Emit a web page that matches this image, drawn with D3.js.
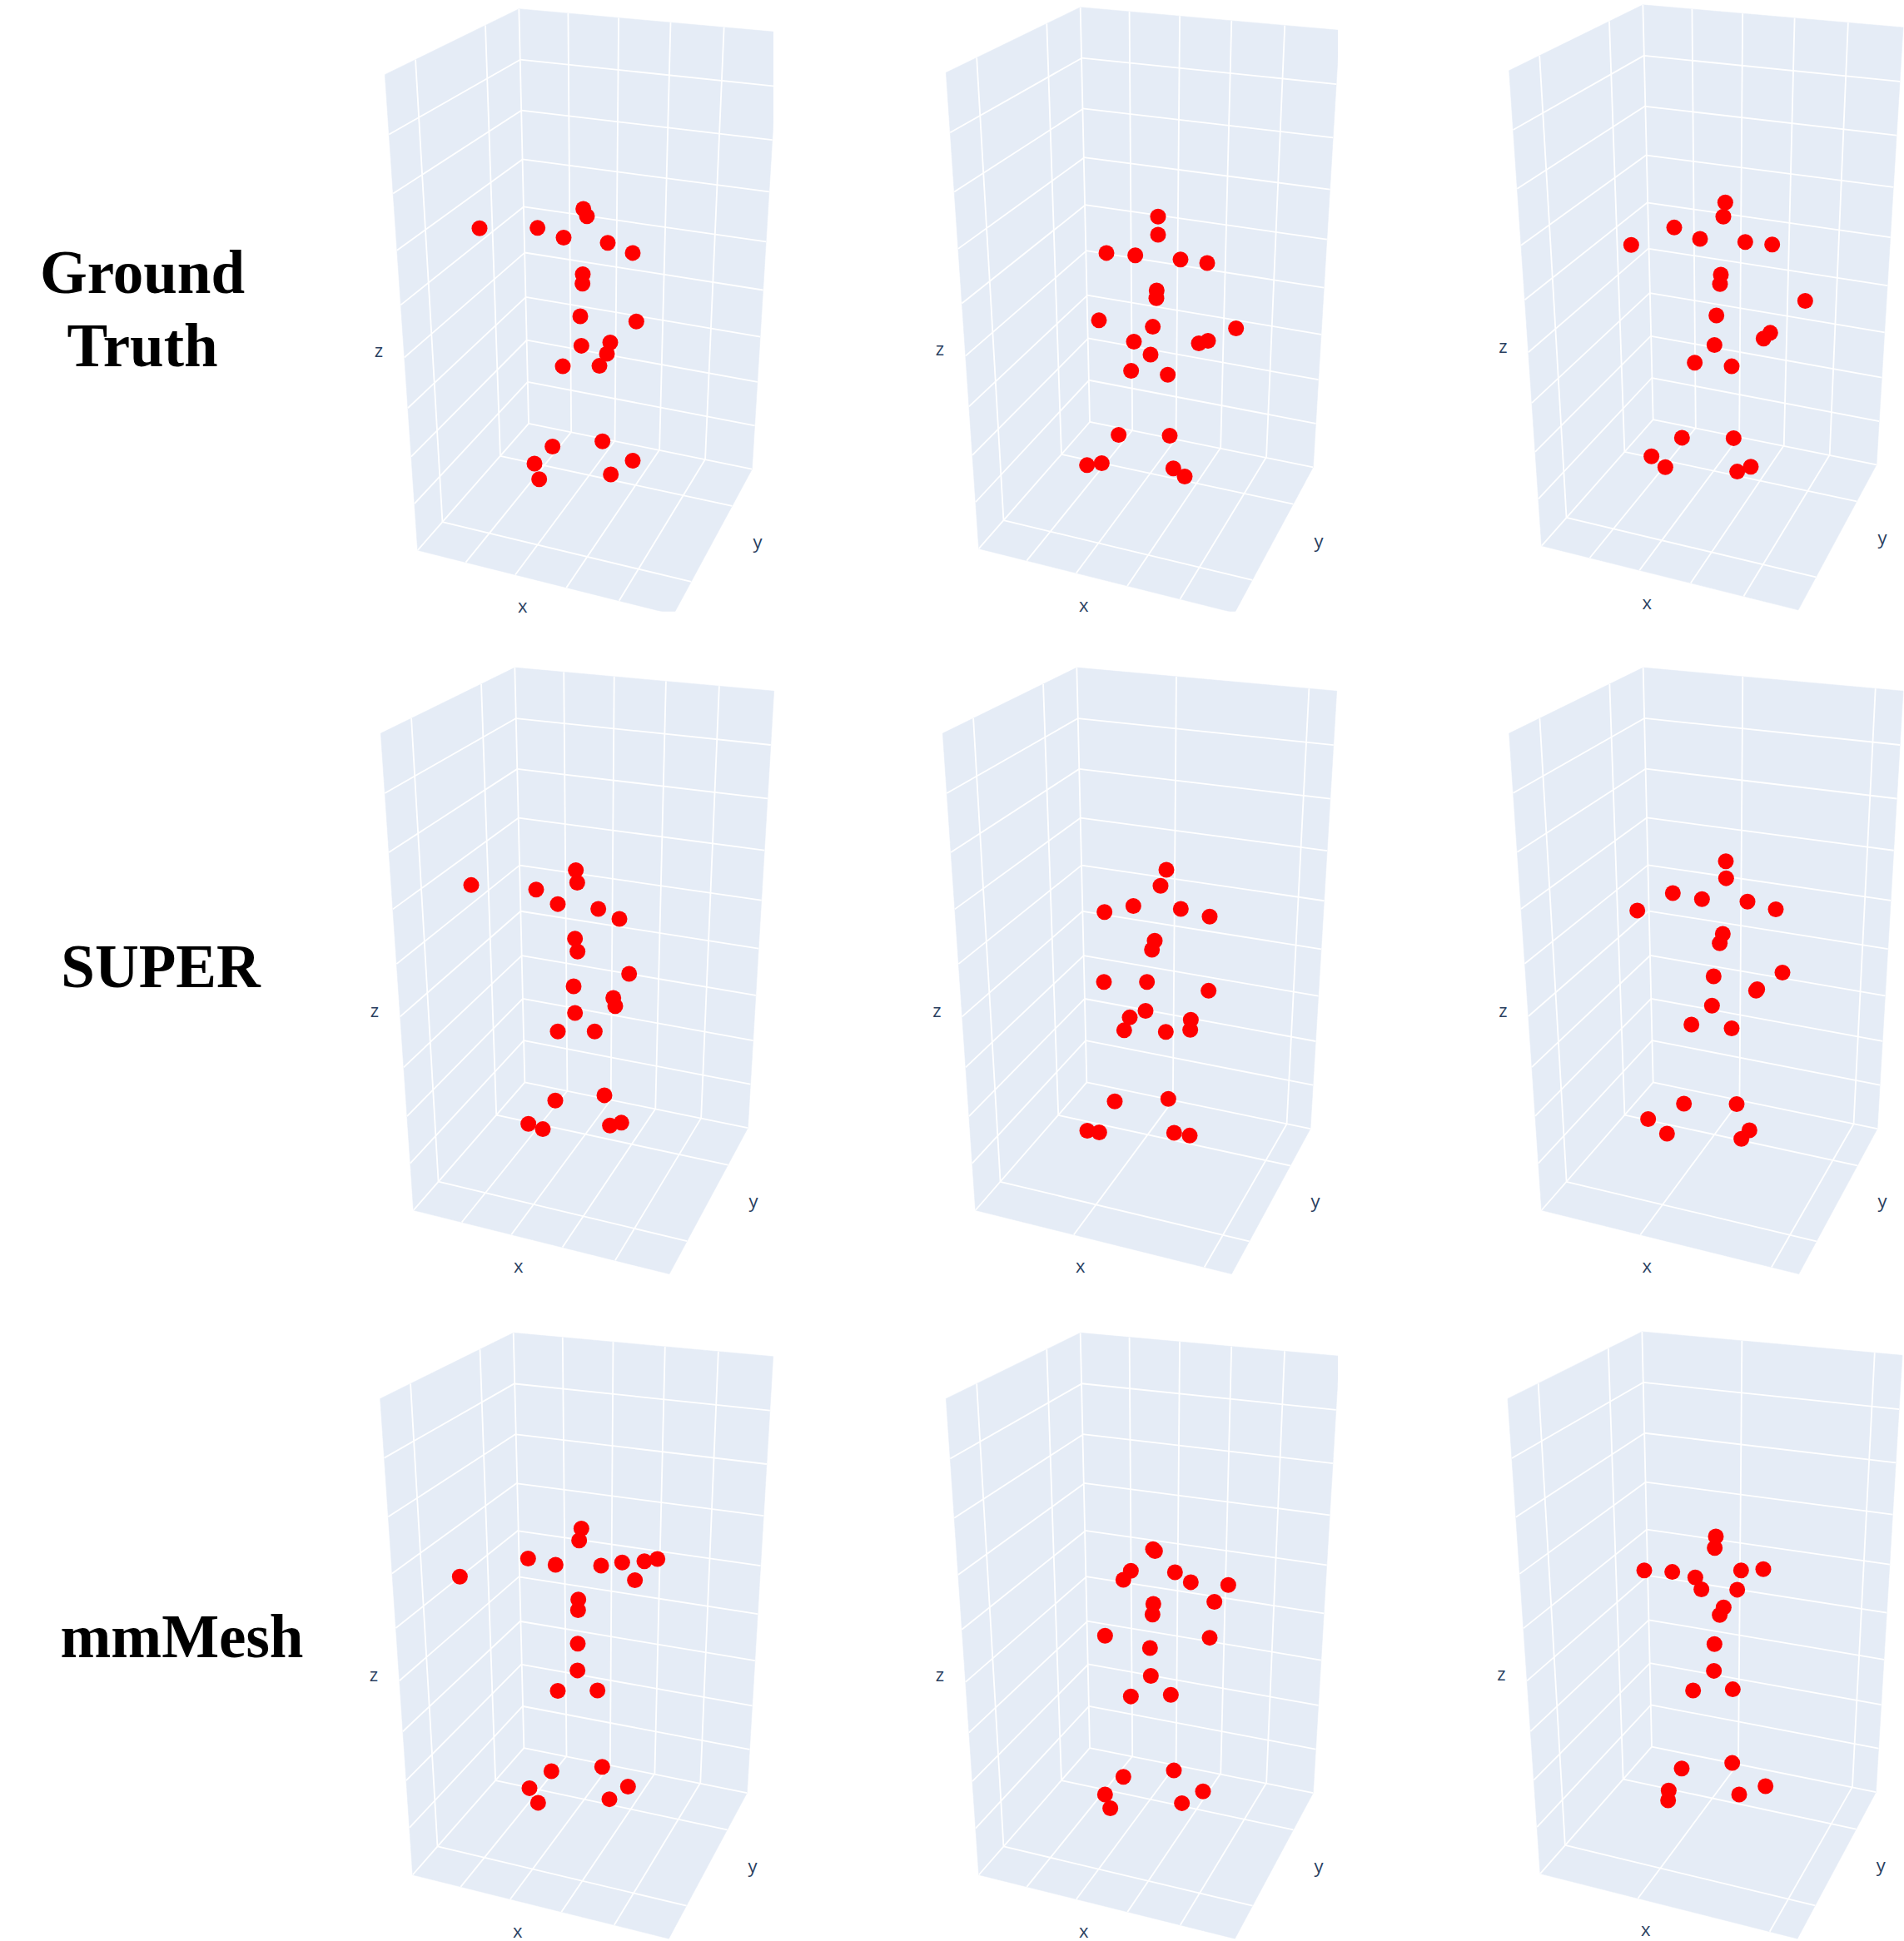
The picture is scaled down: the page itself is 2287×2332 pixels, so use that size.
<!DOCTYPE html>
<html>
<head>
<meta charset="utf-8">
<script src="https://cdn.jsdelivr.net/npm/d3@7"></script>
<style>
  html, body { margin: 0; background: #fff; }
  svg { display: block; }
</style>
</head>
<body>
<script>
const pageWidth = 2287;
const pageHeight = 2332;

const rowLabels = [
  { lines: ["Ground", "Truth"], baselines: [352, 440], cx: 171 },
  { lines: ["SUPER"], baselines: [1186], cx: 193 },
  { lines: ["mmMesh"], baselines: [1991], cx: 218.5 }
];

// joint positions, as [across, down] in the panel's own reading grid (0-1560, 0-1568)
const truthFrameA = [[408,566],[617,565],[711,589],[782,518],[795,536],[870,602],[960,627],[780,680],[779,703],[771,784],[973,797],[775,857],[879,849],[867,877],[840,907],[708,908],[671,1107],[851,1094],[606,1149],[623,1188],[881,1176],[960,1142]];
const truthFrameB = [[657,627],[761,633],[843,537],[843,582],[924,643],[1020,652],[838,720],[837,739],[630,794],[824,810],[1124,814],[756,847],[990,851],[1023,845],[816,879],[746,919],[878,929],[701,1078],[885,1080],[587,1153],[640,1148],[898,1161],[939,1181]];
const truthFrameC = [[538,607],[693,564],[786,592],[877,502],[870,537],[949,600],[1046,606],[861,681],[858,704],[1165,746],[845,782],[838,855],[1039,825],[1015,839],[767,899],[900,908],[721,1085],[907,1086],[611,1131],[661,1158],[920,1169],[969,1157]];
const superFrameA = [[378,564],[612,575],[690,611],[755,527],[760,558],[836,623],[912,648],[752,697],[761,729],[947,784],[747,815],[890,844],[897,864],[752,881],[690,927],[823,927],[858,1085],[681,1098],[584,1156],[636,1169],[878,1160],[919,1153]];
const superFrameB = [[873,526],[852,566],[754,616],[925,623],[650,631],[1029,642],[831,702],[821,724],[648,804],[803,804],[1025,826],[798,876],[741,892],[721,924],[961,898],[959,923],[871,928],[687,1100],[880,1094],[588,1173],[631,1177],[901,1178],[957,1185]];
const superFrameC = [[879,505],[880,547],[688,584],[793,599],[957,605],[1059,624],[560,627],[868,685],[857,708],[835,790],[1083,781],[992,822],[988,826],[829,863],[755,910],[900,919],[728,1106],[918,1107],[599,1144],[667,1180],[964,1172],[935,1193]];
const meshFrameA = [[775,521],[767,551],[583,597],[682,613],[846,615],[922,607],[1002,604],[1049,598],[968,652],[337,643],[764,701],[763,728],[762,813],[761,881],[690,933],[833,932],[667,1137],[850,1126],[588,1180],[619,1217],[876,1208],[943,1176]];
const meshFrameB = [[825,573],[832,578],[745,628],[718,651],[904,632],[961,657],[1096,664],[1046,707],[826,712],[823,739],[652,793],[1029,798],[814,824],[817,895],[745,947],[889,943],[718,1151],[900,1135],[652,1196],[671,1231],[929,1218],[1005,1188]];
const meshFrameC = [[843,541],[839,570],[585,627],[686,631],[769,645],[791,675],[934,627],[1014,624],[920,676],[871,721],[857,740],[838,814],[836,882],[761,932],[904,929],[720,1130],[902,1116],[673,1186],[671,1211],[927,1196],[1022,1175]];

const framePoints = [
  truthFrameA, truthFrameB, truthFrameC,
  superFrameA, superFrameB, superFrameC,
  meshFrameA, meshFrameB, meshFrameC
];

// gridline values on each axis of the 3D box
const xTicksFine = [1, 2, 3, 4];
const xTicksCoarse = [2, 4.5];
const yTicks = [0.287, 0.803];
const zTicks = [1, 2, 3, 4, 5, 6, 7, 8];
const panelXTicks = [
  xTicksFine, xTicksFine, xTicksFine,
  xTicksFine, xTicksCoarse, xTicksCoarse,
  xTicksFine, xTicksFine, xTicksCoarse
];

// where each scene sits on the page
const cropLeft = [440, 1110, 1780];
const cropTop = [0, 790, 1590];
const cropHeight = [760, 760, 742];

// box corners: a front-top, b back-top, c right-top, d right-floor, e front-right, f front-floor, g back-floor
const boxCorners = [
  { a: [67,185], b: [550,22], c: [1487,80], d: [1390,1163], e: [1107,1523], f: [185,1364], g: [585,1050] },
  { a: [79,180], b: [563,18], c: [1497,75], d: [1402,1158], e: [1119,1519], f: [197,1360], g: [597,1046] },
  { a: [98,175], b: [580,12], c: [1518,68], d: [1422,1152], e: [1140,1512], f: [215,1353], g: [617,1040] },
  { a: [52,188], b: [535,25], c: [1469,83], d: [1375,1166], e: [1092,1528], f: [170,1370], g: [571,1053] },
  { a: [67,188], b: [550,25], c: [1487,83], d: [1392,1168], e: [1108,1528], f: [185,1370], g: [586,1053] },
  { a: [98,188], b: [581,25], c: [1518,83], d: [1425,1168], e: [1142,1528], f: [215,1370], g: [617,1053] },
  { a: [50,191], b: [530,24], c: [1466,84], d: [1372,1192], e: [1090,1562], f: [167,1400], g: [568,1078] },
  { a: [79,191], b: [563,24], c: [1496,83], d: [1402,1192], e: [1120,1562], f: [197,1400], g: [597,1078] },
  { a: [93,191], b: [577,21], c: [1515,81], d: [1420,1190], e: [1137,1562], f: [210,1397], g: [612,1075] }
];
const clipRight = [1467, 1491, 1560, 1560, 1560, 1560, 1560, 1491, 1560];
const clipBottom = [1516, 1516, 1568, 1568, 1568, 1568, 1568, 1568, 1568];

const axisLabelSpots = [
  { z: [45,872], x: [563,1505], y: [1410,1346] },
  { z: [57,868], x: [575,1502], y: [1422,1343] },
  { z: [76,862], x: [595,1496], y: [1443,1336] },
  { z: [30,877], x: [548,1512], y: [1395,1351] },
  { z: [46,877], x: [563,1512], y: [1410,1351] },
  { z: [76,877], x: [595,1512], y: [1443,1351] },
  { z: [27,895], x: [545,1545], y: [1392,1381] },
  { z: [57,895], x: [575,1545], y: [1422,1381] },
  { z: [70,893], x: [590,1542], y: [1438,1379] }
];

const wallColor = "#E5ECF6";
const gridColor = "#FFFFFF";
const axisTextColor = "#2A3F5F";
const markerColor = "#FF0000";
const markerRadius = 9.5;

const xFraction = d3.scaleLinear().domain([0, 5]).range([0, 1]);
const zFraction = d3.scaleLinear().domain([-0.03, 8.97]).range([0, 1]);

// maps the unit square onto a quad given as corners at (0,0), (1,0), (1,1), (0,1)
function squareToQuad([x0, y0], [x1, y1], [x2, y2], [x3, y3]) {
  const dx1 = x1 - x2;
  const dx2 = x3 - x2;
  const sx = x0 - x1 + x2 - x3;
  const dy1 = y1 - y2;
  const dy2 = y3 - y2;
  const sy = y0 - y1 + y2 - y3;
  const det = dx1 * dy2 - dx2 * dy1;
  const g = (sx * dy2 - dx2 * sy) / det;
  const h = (dx1 * sy - sx * dy1) / det;
  const a = x1 - x0 + g * x1;
  const b = x3 - x0 + h * x3;
  const d = y1 - y0 + g * y1;
  const e = y3 - y0 + h * y3;

  return (u, v) => {
    const w = g * u + h * v + 1;
    return [(a * u + b * v + x0) / w, (d * u + e * v + y0) / w];
  };
}

const svg = d3.select("body").append("svg")
  .attr("width", pageWidth)
  .attr("height", pageHeight)
  .style("background", "#fff");

const defs = svg.append("defs");
defs.append("filter").attr("id", "soften")
  .append("feGaussianBlur").attr("stdDeviation", 0.45);

function drawPanel(points, idx) {
  const col = idx % 3;
  const row = Math.floor(idx / 3);
  const corners = boxCorners[idx];
  const left = cropLeft[col];
  const top = cropTop[row];

  const px = d3.scaleLinear().domain([0, 1560]).range([left, left + 520]);
  const py = d3.scaleLinear().domain([0, 1568]).range([top, top + cropHeight[row]]);
  const line = d3.line().x((d) => px(d[0])).y((d) => py(d[1]));

  defs.append("clipPath").attr("id", `scene-${idx}`)
    .append("rect")
    .attr("x", px(0) - 20)
    .attr("y", py(0))
    .attr("width", px(clipRight[idx]) - px(0) + 20)
    .attr("height", py(clipBottom[idx]) - py(0));

  const scene = svg.append("g")
    .attr("class", "scene")
    .attr("clip-path", `url(#scene-${idx})`)
    .attr("filter", "url(#soften)");

  const { a, b, c, d, e, f, g } = corners;
  const backWall = squareToQuad(g, d, c, b); // u = x, v = z
  const sideWall = squareToQuad(g, f, a, b); // u = y, v = z
  const floor = squareToQuad(g, d, e, f); // u = x, v = y

  scene.selectAll("path.wall")
    .data([[g, d, c, b], [g, f, a, b], [g, d, e, f]])
    .enter().append("path")
    .attr("class", "wall")
    .attr("d", (quad) => `${line(quad)}Z`)
    .attr("fill", wallColor)
    .attr("stroke", wallColor)
    .attr("stroke-width", 0.6);

  const gridSegments = [];
  panelXTicks[idx].forEach((t) => {
    const u = xFraction(t);
    gridSegments.push([backWall(u, 0), backWall(u, 1)]);
    gridSegments.push([floor(u, 0), floor(u, 1)]);
  });
  yTicks.forEach((t) => {
    gridSegments.push([sideWall(t, 0), sideWall(t, 1)]);
    gridSegments.push([floor(0, t), floor(1, t)]);
  });
  zTicks.forEach((t) => {
    const v = zFraction(t);
    gridSegments.push([backWall(0, v), backWall(1, v)]);
    gridSegments.push([sideWall(0, v), sideWall(1, v)]);
  });
  // inner edges of the box
  gridSegments.push([g, b], [g, d], [g, f]);

  scene.selectAll("path.grid")
    .data(gridSegments)
    .enter().append("path")
    .attr("class", "grid")
    .attr("d", line)
    .attr("fill", "none")
    .attr("stroke", gridColor)
    .attr("stroke-width", 1.8);

  scene.selectAll("circle.joint")
    .data(points)
    .enter().append("circle")
    .attr("class", "joint")
    .attr("cx", (p) => px(p[0]))
    .attr("cy", (p) => py(p[1]))
    .attr("r", markerRadius)
    .attr("fill", markerColor);

  const spots = axisLabelSpots[idx];
  svg.append("g").selectAll("text")
    .data(["x", "y", "z"])
    .enter().append("text")
    .text((name) => name)
    .attr("x", (name) => px(spots[name][0]))
    .attr("y", (name) => py(spots[name][1]))
    .attr("dy", "0.3em")
    .attr("text-anchor", "middle")
    .attr("font-family", "'Open Sans', sans-serif")
    .attr("font-size", 22)
    .attr("fill", axisTextColor);
}

function drawRowLabels() {
  rowLabels.forEach(({ lines, baselines, cx }) => {
    svg.append("g").selectAll("text")
      .data(lines)
      .enter().append("text")
      .text((t) => t)
      .attr("x", cx)
      .attr("y", (t, i) => baselines[i])
      .attr("text-anchor", "middle")
      .attr("font-family", "'Liberation Serif', serif")
      .attr("font-weight", "bold")
      .attr("font-size", 73)
      .attr("fill", "#000");
  });
}

framePoints.forEach(drawPanel);
drawRowLabels();
</script>
</body>
</html>
